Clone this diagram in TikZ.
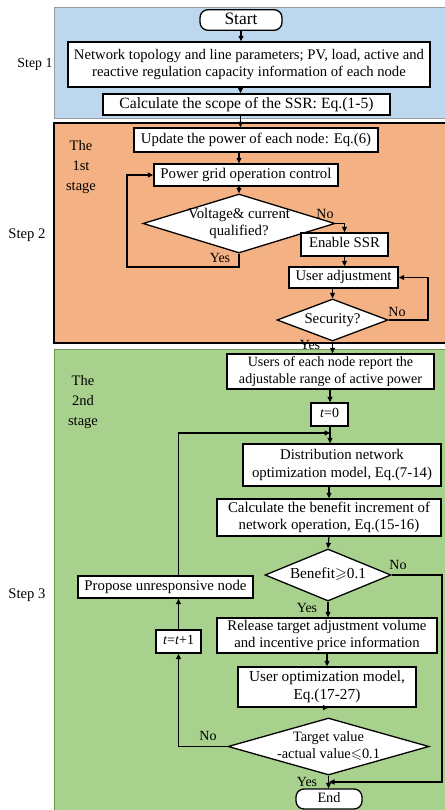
\documentclass[tikz,border=0pt]{standalone}
\usepackage{fontspec}
\setmainfont{Liberation Serif}
\usepackage{amssymb}
\usepackage{graphicx}
\usetikzlibrary{arrows.meta,shapes.geometric}
\newcommand\fsz{\fontsize{14}{16.5}\selectfont}
\newcommand\fszst{\fontsize{14.5}{20}\selectfont}
\newcommand\fitw[2]{\resizebox{#1}{!}{\fsz\begin{tabular}{@{}c@{}}#2\end{tabular}}}
\definecolor{pblue}{RGB}{189,215,238}
\definecolor{porange}{RGB}{244,177,131}
\definecolor{pgreen}{RGB}{169,209,142}
\definecolor{pgreenb}{RGB}{110,150,80}
\begin{document}
\begin{tikzpicture}[x=1pt,y=-1pt,
  box/.style={draw, line width=1.3pt, fill=white, inner sep=0pt, align=center, font=\fsz},
  term/.style={box, rounded corners=8pt},
  dia/.style={draw, shape=diamond, line width=1.3pt, fill=white, inner sep=0pt},
  arr/.style={-{Triangle[length=5.5pt,width=5pt]}, line width=1.2pt},
  ln/.style={line width=1.2pt},
  lab/.style={font=\fsz, inner sep=0pt},
  stlab/.style={font=\fszst, inner sep=0pt, align=center}]
\useasboundingbox (0,0) rectangle (444,810);
% panels
\fill[white] (0,0) rectangle (444,810);
\draw[fill=pblue, draw=gray!80, line width=0.8pt] (54,7) rectangle (447,118);
\draw[fill=porange, draw=black, line width=1.2pt] (54,123) rectangle (447,343);
\draw[fill=pgreen, draw=pgreenb, line width=0.8pt] (54,349) rectangle (447,813);
% step labels
\node[lab] (s1) at (35,64) {\fitw{35pt}{Step 1}};
\node[lab] (s2) at (27,235) {\fitw{37pt}{Step 2}};
\node[lab] (s3) at (27,595) {\fitw{37pt}{Step 3}};
\node[stlab] (st1) at (81,167) {The\\1st\\stage};
\node[stlab] (st2) at (83,402) {The\\2nd\\stage};
% nodes
\node[term, minimum width=82pt, minimum height=17pt] (start) at (241,20) {\fitw{33pt}{Start}};
\node[box, minimum width=362pt, minimum height=45pt] (net) at (249,64.5) {\fitw{350pt}{Network topology and line parameters; PV, load, active and\\reactive regulation capacity information of each node}};
\node[box, minimum width=287pt, minimum height=21pt] (calc) at (246.5,104.5) {\fitw{254pt}{Calculate the scope of the SSR: Eq.(1-5)}};
\node[box, minimum width=244pt, minimum height=24pt] (upd) at (256,140) {\fitw{230pt}{Update the power of each node: Eq.(6)}};
\node[box, minimum width=184pt, minimum height=22pt] (pgoc) at (246,175) {\fitw{171pt}{Power grid operation control}};
\node[dia, minimum width=192pt, minimum height=59pt] (volt) at (239,223.5) {};
\node[lab] (voltt) at (239,223.5) {\fitw{102pt}{Voltage\& current\\qualified?}};
\node[box, minimum width=87pt, minimum height=23pt] (enable) at (344.5,244.5) {\fitw{71pt}{Enable SSR}};
\node[box, minimum width=109pt, minimum height=21pt] (uadj) at (343.5,277.5) {\fitw{96pt}{User adjustment}};
\node[dia, minimum width=111pt, minimum height=42pt] (secur) at (332.5,320) {};
\node[lab] (secut) at (332.5,320) {\fitw{56pt}{Security?}};
\node[box, minimum width=207pt, minimum height=35pt] (users) at (330.5,371.5) {\fitw{183pt}{Users of each node report the\\adjustable range of active power}};
\node[box, minimum width=37pt, minimum height=23pt] (t0) at (329.5,414.5) {\fitw{19pt}{\textit{t}=0}};
\node[box, minimum width=198pt, minimum height=42pt] (dist) at (342,465) {\fitw{180pt}{Distribution network\\optimization model, Eq.(7-14)}};
\node[box, minimum width=224pt, minimum height=37pt] (calcb) at (329,517.5) {\fitw{202pt}{Calculate the benefit increment of\\network operation, Eq.(15-16)}};
\node[dia, minimum width=126pt, minimum height=52pt] (bene) at (328,575) {};
\node[lab] (benet) at (328,575) {\fitw{76pt}{Benefit$\geqslant$0.1}};
\node[box, minimum width=175pt, minimum height=22pt] (prop) at (165.5,587) {\fitw{162pt}{Propose unresponsive node}};
\node[box, minimum width=220pt, minimum height=35pt] (rel) at (327,635.5) {\fitw{199pt}{Release target adjustment volume\\and incentive price information}};
\node[box, minimum width=45pt, minimum height=23pt] (tt1) at (178.5,641.5) {\fitw{31pt}{\textit{t}=\textit{t}+1}};
\node[box, minimum width=178pt, minimum height=40pt] (uopt) at (327,687) {\fitw{156pt}{User optimization model,\\Eq.(17-27)}};
\node[dia, minimum width=201pt, minimum height=57pt] (targ) at (328.5,746.5) {};
\node[lab] (targt) at (328.5,746.5) {\fitw{103pt}{Target value\\-actual value$\leqslant$0.1}};
\node[term, minimum width=66pt, minimum height=20pt] (end) at (329,799) {\fitw{23pt}{End}};
% coordinates
\coordinate (ax1) at (240.5,0);
\coordinate (yl) at (127,267);
\coordinate (sr) at (428,320);
\coordinate (m1) at (330,433);
\coordinate (br) at (442,575);
\coordinate (m2) at (329,782);
% connectors
\draw[arr] (start.south) -- (start.south |- net.north);
\draw[arr] (ax1 |- net.south) -- (ax1 |- calc.north);
\draw[arr] (ax1 |- calc.south) -- (ax1 |- upd.north);
\draw[arr] (volt.north |- upd.south) -- (volt.north |- pgoc.north);
\draw[arr] (volt.north |- pgoc.south) -- (volt.north);
\draw[arr] (volt.east) -| (enable.north);
\draw[arr] (volt.south) |- (yl) |- (pgoc.west);
\draw[arr] (enable.south) -- (enable.south |- uadj.north);
\draw[arr] (secur.north |- uadj.south) -- (secur.north);
\draw[arr] (secur.east) -- (sr) |- (uadj.east);
\draw[arr] (secur.south) -- (secur.south |- users.north);
\draw[arr] (m1 |- users.south) -- (m1 |- t0.north);
\draw[ln] (m1 |- t0.south) -- (m1);
\draw[arr] (m1) -- (m1 |- dist.north);
\draw[arr] (tt1.north |- prop.north) |- (m1);
\draw[arr] (calcb.north |- dist.south) -- (calcb.north);
\draw[arr] (calcb.south) -- (bene.north);
\draw[arr] (bene.south) -- (bene.south |- rel.north);
\draw[arr] (uopt.north |- rel.south) -- (uopt.north);
\draw[arr] (uopt.south) -- (uopt.south -| targ.north);
\draw[arr] (targ.south) -- (targ.south |- end.north);
\draw[arr] (bene.east) -- (br) |- (m2);
\draw[arr] (targ.west) -| (tt1.south);
\draw[arr] (tt1.north) -- (tt1.north |- prop.south);
% edge labels
\node[lab] (l1) at (325,214) {No};
\node[lab] (l2) at (220,258) {Yes};
\node[lab] (l3) at (397,312) {No};
\node[lab] (l4) at (310,345) {Yes};
\node[lab] (l5) at (398,565) {No};
\node[lab] (l6) at (307,608) {Yes};
\node[lab] (l7) at (208,736) {No};
\node[lab] (l8) at (307,782) {Yes};
\end{tikzpicture}
\end{document}
